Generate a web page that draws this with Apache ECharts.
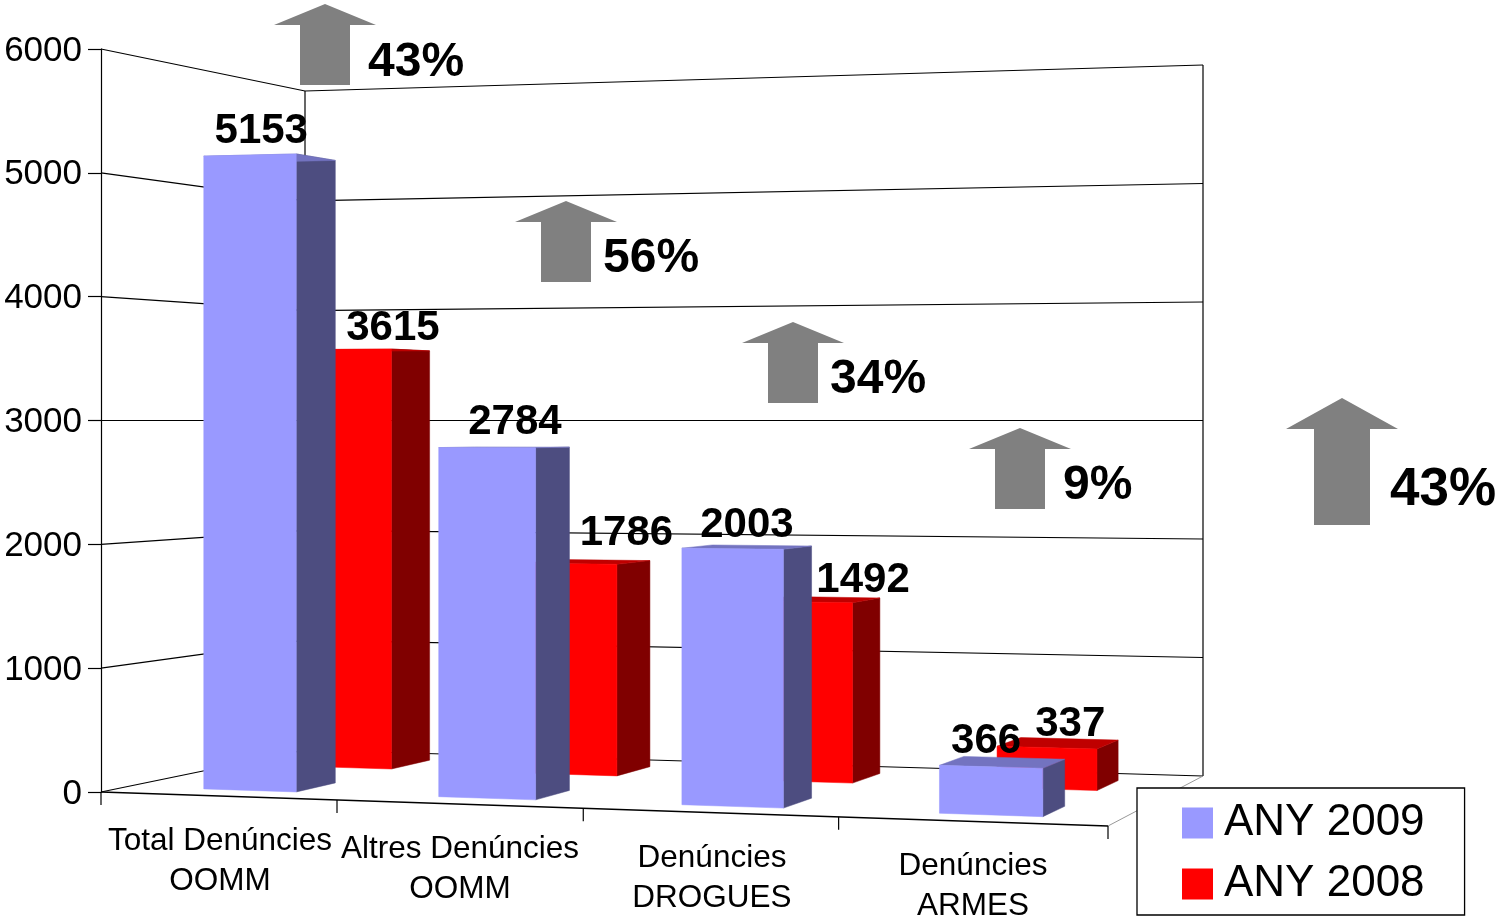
<!DOCTYPE html>
<html><head><meta charset="utf-8">
<style>html,body{margin:0;padding:0;background:#fff}#c{width:1500px;height:917px}</style>
<script src="https://cdn.jsdelivr.net/npm/echarts@6/dist/echarts.min.js"></script>
</head><body><div id="c"></div>
<script>
const categories = ['Total Denúncies\nOOMM','Altres Denúncies\nOOMM','Denúncies\nDROGUES','Denúncies\nARMES'];
const any2009 = [5153,2784,2003,366];
const any2008 = [3615,1786,1492,337];
const yTicks = [0,1000,2000,3000,4000,5000,6000];
const percentLabels = ['43%','56%','34%','9%','43%'];
const seriesNames = ['ANY 2009','ANY 2008'];

// layout only (no data values below)
const FONT = '"Liberation Sans", Arial, sans-serif';
const grid = {left:101, top:49, width:1007, height:743, outerBoundsMode:'none'};
const floorQuad = {fl:[101,792], fr:[1108,826], br:[1203,776], bl:[305,750]};
const row2009 = {w0:.12, w1:.315, off:.0335, width:.1, face:'#9999FF', side:'#4D4D80', top:'#7373C0',
  nudge:[0,.0005,-.002,-.002], trim:[0,0,0,.003]};
const row2008 = {w0:.633, w1:.85, off:.0295, width:.1, face:'#FF0000', side:'#800000', top:'#BF0000',
  nudge:[0,0,0,-.002], trim:[0,0,0,0]};
const labelOffsets2009 = [[11,-24],[28,-25],[12,-23],[-9,-26]];
const labelOffsets2008 = [[45,-21],[55,-30],[58,-22],[21,-23]];
const categoryLabelY = [841,849,858,866];
const categoryLabelX = [220,460,712,973];
const tickNudge = [2,3,1,0];
// [apexX, apexY, headHalf, headH, shaftHalf, totalH, textX, textY, fontSize]
const arrowLayout = [
 [325,4,51,21,25,81,368,63,48],
 [566,201,51,21,25,81,603,259,48],
 [793,322,51,21,25,81,830,380,48],
 [1020,428,51,21,25,81,1063,486,48],
 [1342,398,56,31,28,127,1390,490,53]
];

// floor homography (u across, w into depth)
const H = (function(){
  const q=floorQuad;
  const dx1=q.fr[0]-q.br[0], dx2=q.bl[0]-q.br[0], sx=q.fl[0]-q.fr[0]+q.br[0]-q.bl[0];
  const dy1=q.fr[1]-q.br[1], dy2=q.bl[1]-q.br[1], sy=q.fl[1]-q.fr[1]+q.br[1]-q.bl[1];
  const den=dx1*dy2-dx2*dy1;
  const g=(sx*dy2-dx2*sy)/den, h=(dx1*sy-sx*dy1)/den;
  return {a:q.fr[0]-q.fl[0]+g*q.fr[0], b:q.bl[0]-q.fl[0]+h*q.bl[0], c:q.fl[0],
          d:q.fr[1]-q.fl[1]+g*q.fr[1], e:q.bl[1]-q.fl[1]+h*q.bl[1], f:q.fl[1], g:g, h:h};
})();
// u,w on the floor; py is the pixel the value axis gives on the front plane
function project(u,w,py){
  const D=1+H.g*u+H.h*w;
  const X=(H.a*u+H.b*w+H.c)/D, Y=(H.d*u+H.e*w+H.f)/D;
  const mid=grid.top+grid.height/2;
  const t=(py-mid)/(grid.height/2);
  return [X, mid+(Y-mid)*t];
}
function toU(px){return (px-grid.left)/grid.width;}

function barItem(row){
  return function(params,api){
    const i=params.dataIndex;
    const c=api.coord([api.value(0),api.value(1)]);
    const base=api.coord([api.value(0),0]);
    const band=api.size([1,0])[0]/grid.width;
    const u0=toU(c[0])-band/2+row.off+.05-.0005+row.nudge[i], u1=u0+row.width-row.trim[i];
    const y=c[1], b=base[1];
    const A=project(u0,row.w0,y),B=project(u1,row.w0,y),C=project(u1,row.w1,y),E=project(u0,row.w1,y);
    const A0=project(u0,row.w0,b),B0=project(u1,row.w0,b),C0=project(u1,row.w1,b);
    const poly=(pts,f)=>({type:'polygon',shape:{points:pts},style:{fill:f,stroke:f,lineWidth:.5}});
    return {type:'group',children:[
      poly([B,C,C0,B0],row.side),
      poly([A,B,C,E],row.top),
      poly([A,B,B0,A0],row.face)
    ]};
  };
}
function labelItem(row,offsets){
  return function(params,api){
    const c=api.coord([api.value(0),api.value(1)]);
    const band=api.size([1,0])[0]/grid.width;
    const u=toU(c[0])-band/2+row.off+.05+row.width/2;
    const p=project(u,row.w0,c[1]);
    const o=offsets[params.dataIndex];
    return {type:'text',style:{text:String(api.value(1)),x:p[0]+o[0],y:p[1]+o[1],
      fill:'#000',fontFamily:FONT,fontWeight:'bold',fontSize:42,align:'center',verticalAlign:'middle'}};
  };
}
function wallItem(params,api){
  const y=api.coord([0,api.value(0)])[1];
  return {type:'polyline',shape:{points:[project(0,0,y),project(0,1,y),project(1,1,y)]},
    style:{stroke:'#000',lineWidth:1.2,fill:null}};
}
function frameItem(params,api){
  const t=api.coord([0,yTicks[yTicks.length-1]])[1], b=api.coord([0,0])[1];
  const line=(a,c,col,w)=>({type:'line',shape:{x1:a[0],y1:a[1],x2:c[0],y2:c[1]},style:{stroke:col,lineWidth:w}});
  return {type:'group',children:[
    line(project(0,1,t),project(0,1,b),'#000',1.2),
    line(project(1,1,t),project(1,1,b),'#000',1.2),
    line(project(0,0,b),project(1,0,b),'#000',1.4),
    line(project(1,0,b),project(1,1,b),'#999',1)
  ]};
}
function categoryItem(params,api){
  const i=api.value(0);
  const b=api.coord([i,0]);
  const band=api.size([1,0])[0];
  const p=project(toU(b[0]+band/2),0,b[1]);
  const tx=p[0]+tickNudge[i];
  const children=[
    {type:'line',shape:{x1:tx,y1:p[1],x2:tx,y2:p[1]+13},style:{stroke:'#000',lineWidth:1.2}},
    {type:'text',style:{text:categories[i],x:categoryLabelX[i],y:categoryLabelY[i]-20,fill:'#000',fontFamily:FONT,
      fontSize:31.5,lineHeight:40,align:'center',verticalAlign:'top'}}
  ];
  if(i===0){
    const s=project(0,0,b[1]);
    children.push({type:'line',shape:{x1:s[0],y1:s[1],x2:s[0],y2:s[1]+13},style:{stroke:'#000',lineWidth:1.2}});
  }
  return {type:'group',children:children};
}

const graphicEls=[];
arrowLayout.forEach(function(a,i){
  const x=a[0],y=a[1],hh=a[2],hd=a[3],sh=a[4],t=a[5];
  graphicEls.push({type:'polygon',z:6,shape:{points:[[x,y],[x+hh,y+hd],[x+sh,y+hd],[x+sh,y+t],[x-sh,y+t],[x-sh,y+hd],[x-hh,y+hd]]},style:{fill:'#808080'}});
  graphicEls.push({type:'text',z:6,x:a[6],y:a[7],style:{text:percentLabels[i],fill:'#000',fontFamily:FONT,fontWeight:'bold',fontSize:a[8],align:'left',verticalAlign:'middle'}});
});

const chart=echarts.init(document.getElementById('c'),null,{renderer:'canvas'});
chart.setOption({
  animation:false,
  backgroundColor:'#fff',
  grid:grid,
  xAxis:{type:'category',data:categories,show:false},
  yAxis:{type:'value',min:0,max:6000,interval:1000,
    axisLine:{show:true,lineStyle:{color:'#000',width:1.2}},
    axisTick:{show:true,length:13,lineStyle:{color:'#000',width:1.2}},
    axisLabel:{color:'#000',fontFamily:FONT,fontSize:35,margin:19,formatter:function(v){return '{a|'+v+'}';},
      rich:{a:{color:'#000',fontFamily:FONT,fontSize:35,padding:[4,0,0,0]}}},
    splitLine:{show:false}},
  legend:{data:seriesNames,orient:'vertical',left:1137,top:788,height:400,itemWidth:31,itemHeight:31,itemGap:17,
    icon:'rect',backgroundColor:'#fff',borderColor:'#000',borderWidth:1.3,padding:[13,40,9,45],
    selectedMode:false,
    textStyle:{color:'#000',fontFamily:FONT,fontSize:44,lineHeight:31,padding:[0,0,0,6]}},
  graphic:{elements:graphicEls},
  series:[
    {type:'custom',name:'walls',silent:true,z:1,clip:false,data:yTicks.map(v=>[v]),encode:{y:0},renderItem:wallItem},
    {type:'custom',name:'frame',silent:true,z:1,clip:false,data:[[0]],renderItem:frameItem},
    {type:'custom',name:'axis',silent:true,z:1,clip:false,data:categories.map((c,i)=>[i]),encode:{x:0},renderItem:categoryItem},
    {type:'custom',name:seriesNames[1],z:2,clip:false,itemStyle:{color:row2008.face},data:any2008.map((v,i)=>[i,v]),encode:{x:0,y:1},renderItem:barItem(row2008)},
    {type:'custom',name:seriesNames[0],z:3,clip:false,itemStyle:{color:row2009.face},data:any2009.map((v,i)=>[i,v]),encode:{x:0,y:1},renderItem:barItem(row2009)},
    {type:'custom',name:'labels2008',silent:true,z:5,clip:false,data:any2008.map((v,i)=>[i,v]),encode:{x:0,y:1},renderItem:labelItem(row2008,labelOffsets2008)},
    {type:'custom',name:'labels2009',silent:true,z:5,clip:false,data:any2009.map((v,i)=>[i,v]),encode:{x:0,y:1},renderItem:labelItem(row2009,labelOffsets2009)}
  ]
});
</script></body></html>
